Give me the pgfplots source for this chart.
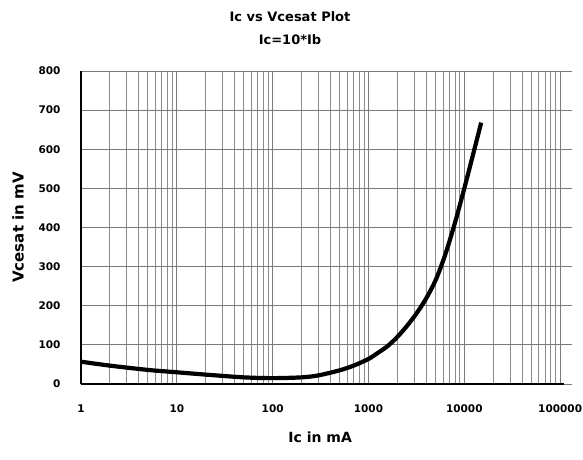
\documentclass[border=0pt]{standalone}
\usepackage{fontspec}
\setmainfont{DejaVu Sans}
\usepackage{pgfplots}
\pgfplotsset{compat=1.18}

\begin{document}
\begin{tikzpicture}
\begin{axis}[
  at={(0,0)}, anchor=south west,
  scale only axis,
  width=491pt, height=313pt,
  xmode=log,
  xmin=1, xmax=133000,
  ymin=0, ymax=800,
  xtick={1,10,100,1000,10000,100000},
  xticklabels={1,10,100,1000,10000,100000},
  minor xtick={2,3,4,5,6,7,8,9,20,30,40,50,60,70,80,90,200,300,400,500,600,700,800,900,2000,3000,4000,5000,6000,7000,8000,9000,20000,30000,40000,50000,60000,70000,80000,90000},
  ytick={0,100,...,800},
  yticklabels={0,100,200,300,400,500,600,700,800},
  grid=both,
  major grid style={black!52, line width=1pt},
  minor grid style={black!45, line width=1pt},
  axis line style={draw=none},
  major tick length=0pt, minor tick length=0pt,
  tick label style={font=\fontsize{10.5}{12}\selectfont\bfseries},
  xticklabel style={yshift=-17pt},
  yticklabel style={xshift=-17pt},
  xlabel={Ic in mA},
  ylabel={Vcesat in mV},
  xlabel style={font=\fontsize{14}{16}\selectfont\bfseries, at={(axis description cs:0.487,-0.171)}, anchor=center},
  ylabel style={font=\fontsize{15}{17}\selectfont\bfseries, at={(axis description cs:-0.128,0.50)}, anchor=center},
  clip=false,
]
% Vce(sat) curve
\addplot[black, line width=4.2pt, smooth, tension=0.5] coordinates {
  (1,57) (2,47) (5,36) (10,30) (20,24) (50,17) (100,15) (200,17)
  (300,22) (500,35) (700,47) (1000,64) (1260,80) (1585,97) (1995,120)
  (2512,148) (3162,180) (3981,218) (5012,265) (6310,330) (7943,410)
  (10000,500) (12590,595) (15000,668)
};
\draw[black, line width=2.8pt] (axis cs:1,0) -- (axis cs:110000,0);
\draw[black, line width=2pt] (axis cs:1,0) -- (axis cs:1,800);
\end{axis}
\node[font=\fontsize{13}{15}\selectfont\bfseries] at (209pt,367pt) {Ic vs Vcesat Plot};
\node[font=\fontsize{13}{15}\selectfont\bfseries] at (209pt,344pt) {Ic=10*Ib};
\pgfresetboundingbox
\path (-81pt,-75pt) rectangle (502pt,384pt);
\end{tikzpicture}
\end{document}
